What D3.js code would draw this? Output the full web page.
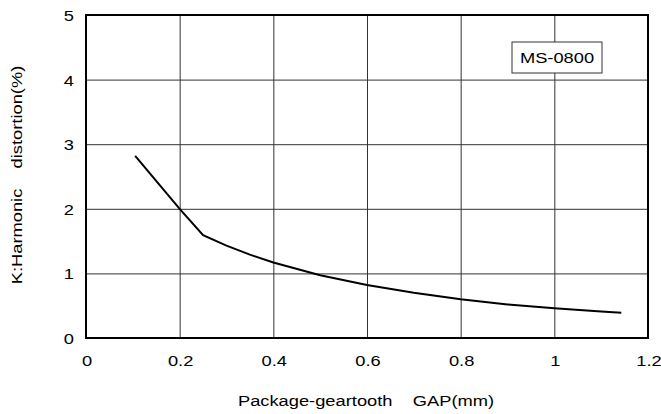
<!DOCTYPE html>
<head>
<meta charset="utf-8">
<title>Harmonic distortion vs GAP</title>
<style>
  body { margin: 0; background: #fff; }
  text { font-family: "Liberation Sans", Arial, sans-serif; fill: #000; font-size: 15px; white-space: pre; }
</style>
</head>
<body>
<div id="chartDiv"></div>
<script src="https://d3js.org/d3.v7.min.js"></script>
<script>

  // data
  var gapValues = [0.105, 0.2, 0.25, 0.3, 0.35, 0.4, 0.5, 0.6, 0.7, 0.8, 0.9, 1.0, 1.1, 1.143];
  var distortionValues = [2.82, 2.0, 1.59, 1.43, 1.29, 1.17, 0.97, 0.82, 0.70, 0.60, 0.52, 0.46, 0.41, 0.39];
  var xTicks = [0, 0.2, 0.4, 0.6, 0.8, 1, 1.2];
  var yTicks = [0, 1, 2, 3, 4, 5];
  var legendLabel = "MS-0800";

  var width = 661, height = 414;
  var plotLeft = 86, plotRight = 648, plotTop = 15, plotBottom = 338;
  var stretch = " scale(1.22,1)";   // the source text is drawn wide

  var svg = d3.select("#chartDiv")
    .append("svg")
      .attr("width", width)
      .attr("height", height);

  var x = d3.scaleLinear().domain([0, 1.2]).range([plotLeft, plotRight]);
  var y = d3.scaleLinear().domain([0, 5]).range([plotBottom, plotTop]);

  // grid
  svg.append("g")
    .attr("transform", "translate(0," + plotBottom + ")")
    .call(d3.axisBottom(x).tickValues(xTicks).tickSize(-(plotBottom - plotTop)).tickFormat(""))
    .call(function(g) {
      g.select(".domain").remove();
      g.selectAll("line").attr("stroke", "#333").attr("stroke-width", 1);
    });

  svg.append("g")
    .attr("transform", "translate(" + plotLeft + ",0)")
    .call(d3.axisLeft(y).tickValues(yTicks).tickSize(-(plotRight - plotLeft)).tickFormat(""))
    .call(function(g) {
      g.select(".domain").remove();
      g.selectAll("line").attr("stroke", "#333").attr("stroke-width", 1);
    });

  // frame
  svg.append("rect")
    .attr("x", plotLeft)
    .attr("y", plotTop)
    .attr("width", plotRight - plotLeft)
    .attr("height", plotBottom - plotTop)
    .attr("fill", "none")
    .attr("stroke", "#000")
    .attr("stroke-width", 2);

  // tick labels
  svg.selectAll(".xlab")
    .data(xTicks)
    .enter().append("text")
    .attr("class", "xlab")
    .attr("transform", function(d) { return "translate(" + (x(d) + 1) + "," + (plotBottom + 28) + ")" + stretch; })
    .attr("text-anchor", "middle")
    .text(function(d) { return d; });

  svg.selectAll(".ylab")
    .data(yTicks)
    .enter().append("text")
    .attr("class", "ylab")
    .attr("transform", function(d) { return "translate(74," + (y(d) + 6) + ")" + stretch; })
    .attr("text-anchor", "end")
    .text(function(d) { return d; });

  // axis titles
  svg.append("text")
    .attr("transform", "translate(366,406)" + stretch)
    .attr("text-anchor", "middle")
    .text("Package-geartooth    GAP(mm)");

  svg.append("text")
    .attr("transform", "translate(22,175) rotate(-90)" + stretch)
    .attr("text-anchor", "middle")
    .text("K:Harmonic    distortion(%)");

  // curve
  var pts = gapValues.map(function(d, i) { return [d, distortionValues[i]]; });
  svg.append("path")
    .datum(pts)
    .attr("fill", "none")
    .attr("stroke", "#000")
    .attr("stroke-width", 2)
    .attr("d", d3.line()
      .x(function(d) { return x(d[0]); })
      .y(function(d) { return y(d[1]); }));

  // legend box
  svg.append("rect")
    .attr("x", 512)
    .attr("y", 42)
    .attr("width", 90)
    .attr("height", 31)
    .attr("fill", "#fff")
    .attr("stroke", "#333")
    .attr("stroke-width", 1);

  svg.append("text")
    .attr("transform", "translate(557,63)" + stretch)
    .attr("text-anchor", "middle")
    .text(legendLabel);

</script>
</body>
